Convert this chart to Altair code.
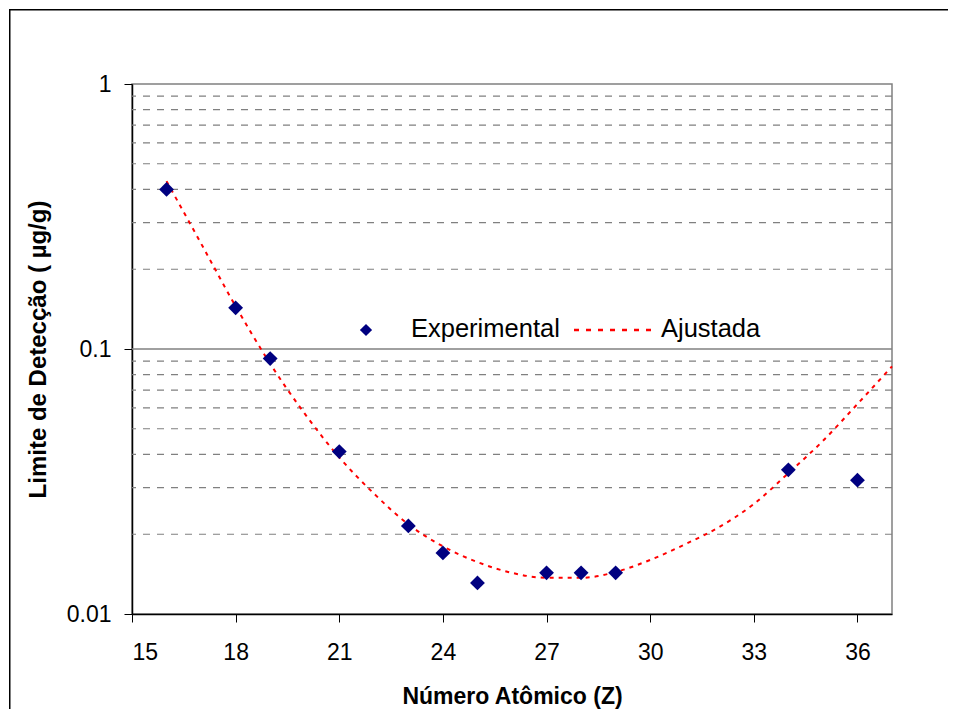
import altair as alt
import pandas as pd

# Experimental data
z_exp = [16, 18, 19, 21, 23, 24, 25, 27, 28, 29, 34, 36]
ld_exp = [0.40, 0.143, 0.092, 0.041, 0.0215, 0.017, 0.0131, 0.0143, 0.0143, 0.0143, 0.035, 0.032]

# Fitted curve
z_fit = [16, 17, 18, 19, 20, 21, 22, 23, 24, 25, 26, 27, 28, 29, 30, 31, 32, 33, 34, 35, 36, 37]
ld_fit = [0.43, 0.25, 0.145, 0.088, 0.057, 0.039, 0.0285, 0.0218, 0.0180, 0.0157, 0.0143, 0.0137,
          0.0137, 0.0144, 0.0160, 0.0183, 0.0213, 0.026, 0.034, 0.045, 0.062, 0.086]

minor_grid = [0.02, 0.03, 0.04, 0.05, 0.06, 0.07, 0.08, 0.09,
              0.2, 0.3, 0.4, 0.5, 0.6, 0.7, 0.8, 0.9]
major_grid = [0.1]
x_ticks = [15, 18, 21, 24, 27, 30, 33, 36]
y_ticks = [0.01, 0.1, 1]

FONT = "Liberation Sans"
W, H = 760, 530

exp_df = pd.DataFrame({"Z": z_exp, "LD": ld_exp})
fit_df = pd.DataFrame({"Z": z_fit, "LD": ld_fit})
minor_df = pd.DataFrame({"g": minor_grid})
major_df = pd.DataFrame({"g": major_grid})
one = pd.DataFrame({"k": [0]})

xscale = alt.Scale(domain=[15, 37], nice=False, zero=False)
yscale = alt.Scale(type="log", domain=[0.01, 1], nice=False)

# outer chart frame (top and left edges) as thin filled bars
frame_top = alt.Chart(one).mark_rect(color="black", strokeWidth=0).encode(
    x=alt.value(-123), x2=alt.value(W + 56), y=alt.value(-75), y2=alt.value(-73.5)
)
frame_left = alt.Chart(one).mark_rect(color="black", strokeWidth=0).encode(
    x=alt.value(-123), x2=alt.value(-121.5), y=alt.value(-75), y2=alt.value(H + 95)
)

minor = alt.Chart(minor_df).mark_rule(color="#808080", strokeWidth=1.2, strokeDash=[7, 7]).encode(
    y=alt.Y("g:Q", scale=yscale)
)
major = alt.Chart(major_df).mark_rule(color="#808080", strokeWidth=1.3).encode(
    y=alt.Y("g:Q", scale=yscale)
)

fit = alt.Chart(fit_df).mark_line(color="#FF0000", strokeWidth=2, strokeDash=[4, 5],
                                  interpolate="monotone").encode(
    x=alt.X("Z:Q", scale=xscale),
    y=alt.Y("LD:Q", scale=yscale),
)

pts = alt.Chart(exp_df).mark_point(shape="diamond", filled=True, color="#000080",
                                   size=220, opacity=1).encode(
    x=alt.X("Z:Q", scale=xscale,
            axis=alt.Axis(values=x_ticks, title="Número Atômico (Z)", grid=False,
                          tickSize=8, labelPadding=19, titlePadding=21, titleFontSize=23)),
    y=alt.Y("LD:Q", scale=yscale,
            axis=alt.Axis(values=y_ticks, format="~g", title="Limite de Detecção ( µg/g)",
                          grid=False, tickSize=8, labelPadding=13, titlePadding=16,
                          titleFontSize=24)),
)

# Legend (inside the plot)
leg_pt = alt.Chart(one).mark_point(shape="diamond", filled=True, color="#000080",
                                   size=150, opacity=1).encode(
    x=alt.value(234), y=alt.value(246)
)
leg_line = alt.Chart(one).mark_rule(color="#FF0000", strokeWidth=2.5, strokeDash=[5, 7]).encode(
    x=alt.value(442), x2=alt.value(520), y=alt.value(246)
)
leg_t1 = alt.Chart(one).mark_text(text="Experimental", align="left", baseline="middle",
                                  fontSize=25.5, font=FONT, color="black").encode(
    x=alt.value(279), y=alt.value(245)
)
leg_t2 = alt.Chart(one).mark_text(text="Ajustada", align="left", baseline="middle",
                                  fontSize=25.5, font=FONT, color="black").encode(
    x=alt.value(529), y=alt.value(245)
)

chart = alt.layer(frame_top, frame_left, minor, major, fit, pts,
                  leg_pt, leg_line, leg_t1, leg_t2).properties(
    width=W, height=H,
    autosize=alt.AutoSizeParams(type="none"),
    padding={"left": 124, "top": 76, "right": 56, "bottom": 95},
).configure_view(
    stroke="#808080", strokeWidth=1.5
).configure_axis(
    domainColor="black", domainWidth=1.5, tickColor="black", tickWidth=1,
    labelColor="black", labelFont=FONT, labelFontSize=23,
    titleColor="black", titleFont=FONT, titleFontSize=22, titleFontWeight="bold",
)

chart.save("out.html", embed_options={"renderer": "svg", "actions": False})
